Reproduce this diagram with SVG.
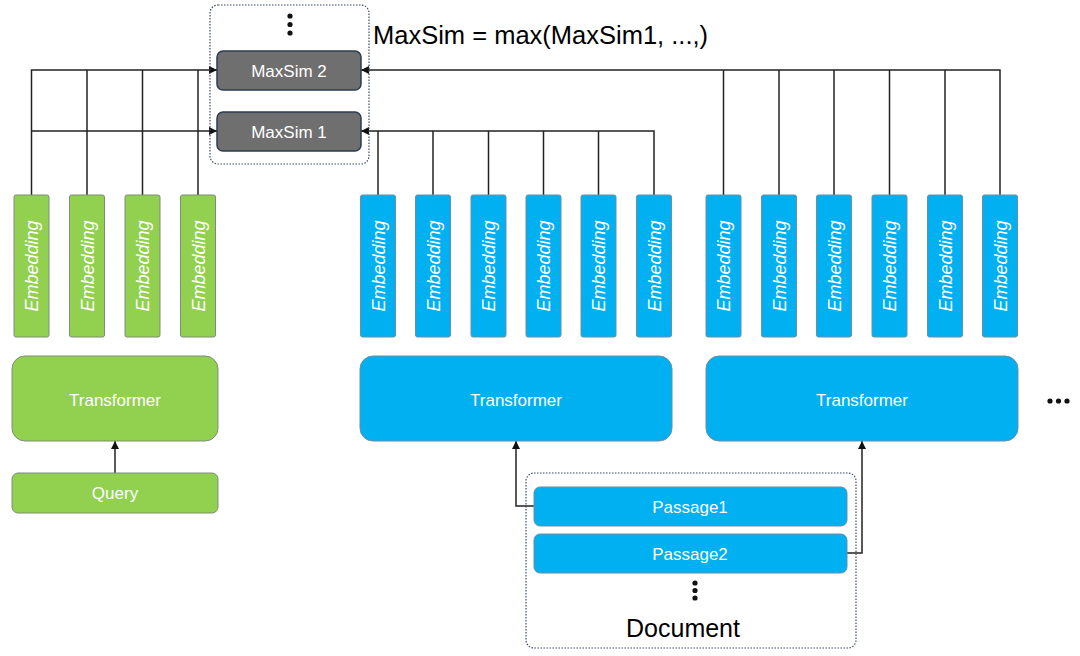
<svg xmlns="http://www.w3.org/2000/svg" width="1080" height="656" viewBox="0 0 1080 656">
<style>
.g{fill:#92D050;stroke:#7f8c7a;stroke-width:1}
.b{fill:#00B0F0;stroke:#6b8fa3;stroke-width:1}
.m{fill:#6f6f6f;stroke:#2d3b52;stroke-width:1.5}
.dot{fill:none;stroke:#3b4b66;stroke-width:1.2;stroke-dasharray:1.5 1.5}
.t{font-family:"Liberation Sans",Arial,sans-serif;fill:#ffffff;text-anchor:middle}
.e{font-family:"Liberation Sans",Arial,sans-serif;fill:#ffffff;font-style:italic;font-size:18px;text-anchor:middle}
.k{font-family:"Liberation Sans",Arial,sans-serif;fill:#000000}
.c{fill:none;stroke:#222222;stroke-width:1.5}
.d{fill:#111111}
</style>
<defs>
<marker id="ah" viewBox="0 0 10 10" refX="10" refY="5" markerWidth="8" markerHeight="8" markerUnits="userSpaceOnUse" orient="auto">
<path d="M0,0 L10,5 L0,10 z" fill="#111111"/>
</marker>
</defs>

<g id="connectors">
<!-- query embeddings to MaxSim -->
<path class="c" d="M31.5,195 V70 H217" marker-end="url(#ah)"/>
<path class="c" d="M31.5,131 H217" marker-end="url(#ah)"/>
<path class="c" d="M87,195 V70"/>
<path class="c" d="M142.5,195 V70"/>
<path class="c" d="M198,195 V70"/>
<!-- doc 1 embeddings to MaxSim 1 -->
<path class="c" d="M654,195 V131 H361" marker-end="url(#ah)"/>
<path class="c" d="M378,195 V131"/>
<path class="c" d="M433,195 V131"/>
<path class="c" d="M488.5,195 V131"/>
<path class="c" d="M543.5,195 V131"/>
<path class="c" d="M598.5,195 V131"/>
<!-- doc 2 embeddings to MaxSim 2 -->
<path class="c" d="M1000,195 V70 H361" marker-end="url(#ah)"/>
<path class="c" d="M723.5,195 V70"/>
<path class="c" d="M779,195 V70"/>
<path class="c" d="M834,195 V70"/>
<path class="c" d="M889.5,195 V70"/>
<path class="c" d="M945,195 V70"/>
<!-- query to transformer -->
<path class="c" d="M115,473 V441" marker-end="url(#ah)"/>
<!-- passages to transformers -->
<path class="c" d="M534,506 H516 V441" marker-end="url(#ah)"/>
<path class="c" d="M847,553 H862 V441" marker-end="url(#ah)"/>
</g>

<g id="maxsim-group">
<rect class="dot" x="210" y="5" width="159" height="159" rx="8"/>
<circle class="d" cx="290" cy="16" r="2.6"/>
<circle class="d" cx="290" cy="24.5" r="2.6"/>
<circle class="d" cx="290" cy="33" r="2.6"/>
</g>
<g id="maxsim2">
<rect class="m" x="217" y="51" width="144" height="39" rx="6"/>
<text class="t" x="289" y="76.5" font-size="17" fill="#eeeeee">MaxSim 2</text>
</g>
<g id="maxsim1">
<rect class="m" x="217" y="112" width="144" height="39" rx="6"/>
<text class="t" x="289" y="137.5" font-size="17">MaxSim 1</text>
</g>
<g id="title">
<text class="k" x="373" y="43.5" font-size="25.5">MaxSim = max(MaxSim1, ...,)</text>
</g>

<!-- query embeddings -->
<g id="q-emb-1"><rect class="g" x="14" y="195" width="35" height="142" rx="2"/><text class="e" transform="translate(38,266) rotate(-90)">Embedding</text></g>
<g id="q-emb-2"><rect class="g" x="69.5" y="195" width="35" height="142" rx="2"/><text class="e" transform="translate(93.5,266) rotate(-90)">Embedding</text></g>
<g id="q-emb-3"><rect class="g" x="125" y="195" width="35" height="142" rx="2"/><text class="e" transform="translate(149,266) rotate(-90)">Embedding</text></g>
<g id="q-emb-4"><rect class="g" x="180.5" y="195" width="35" height="142" rx="2"/><text class="e" transform="translate(204.5,266) rotate(-90)">Embedding</text></g>

<g id="q-transformer">
<rect class="g" x="12" y="356" width="206" height="85" rx="13"/>
<text class="t" x="115" y="405.5" font-size="17">Transformer</text>
</g>
<g id="query">
<rect class="g" x="12" y="473" width="206" height="40" rx="6"/>
<text class="t" x="115" y="499" font-size="17">Query</text>
</g>

<!-- passage 1 embeddings -->
<g id="p1-emb-1"><rect class="b" x="360.5" y="195" width="35" height="142" rx="2"/><text class="e" transform="translate(384.5,266) rotate(-90)">Embedding</text></g>
<g id="p1-emb-2"><rect class="b" x="415.5" y="195" width="35" height="142" rx="2"/><text class="e" transform="translate(439.5,266) rotate(-90)">Embedding</text></g>
<g id="p1-emb-3"><rect class="b" x="471" y="195" width="35" height="142" rx="2"/><text class="e" transform="translate(495,266) rotate(-90)">Embedding</text></g>
<g id="p1-emb-4"><rect class="b" x="526" y="195" width="35" height="142" rx="2"/><text class="e" transform="translate(550,266) rotate(-90)">Embedding</text></g>
<g id="p1-emb-5"><rect class="b" x="581" y="195" width="35" height="142" rx="2"/><text class="e" transform="translate(605,266) rotate(-90)">Embedding</text></g>
<g id="p1-emb-6"><rect class="b" x="636.5" y="195" width="35" height="142" rx="2"/><text class="e" transform="translate(660.5,266) rotate(-90)">Embedding</text></g>

<g id="p1-transformer">
<rect class="b" x="360" y="356" width="312" height="85" rx="13"/>
<text class="t" x="516" y="405.5" font-size="17">Transformer</text>
</g>

<!-- passage 2 embeddings -->
<g id="p2-emb-1"><rect class="b" x="706" y="195" width="35" height="142" rx="2"/><text class="e" transform="translate(730,266) rotate(-90)">Embedding</text></g>
<g id="p2-emb-2"><rect class="b" x="761.5" y="195" width="35" height="142" rx="2"/><text class="e" transform="translate(785.5,266) rotate(-90)">Embedding</text></g>
<g id="p2-emb-3"><rect class="b" x="816.5" y="195" width="35" height="142" rx="2"/><text class="e" transform="translate(840.5,266) rotate(-90)">Embedding</text></g>
<g id="p2-emb-4"><rect class="b" x="872" y="195" width="35" height="142" rx="2"/><text class="e" transform="translate(896,266) rotate(-90)">Embedding</text></g>
<g id="p2-emb-5"><rect class="b" x="927.5" y="195" width="35" height="142" rx="2"/><text class="e" transform="translate(951.5,266) rotate(-90)">Embedding</text></g>
<g id="p2-emb-6"><rect class="b" x="982.5" y="195" width="35" height="142" rx="2"/><text class="e" transform="translate(1006.5,266) rotate(-90)">Embedding</text></g>

<g id="p2-transformer">
<rect class="b" x="706" y="356" width="312" height="85" rx="13"/>
<text class="t" x="862" y="405.5" font-size="17">Transformer</text>
</g>
<g id="more">
<circle class="d" cx="1050" cy="401" r="2.6"/>
<circle class="d" cx="1058.5" cy="401" r="2.6"/>
<circle class="d" cx="1067" cy="401" r="2.6"/>
</g>

<g id="document">
<rect class="dot" x="526" y="473" width="330" height="175" rx="8"/>
<circle class="d" cx="695" cy="583" r="2.6"/>
<circle class="d" cx="695" cy="590.5" r="2.6"/>
<circle class="d" cx="695" cy="598" r="2.6"/>
<text class="k" x="683" y="637" font-size="25" text-anchor="middle">Document</text>
</g>
<g id="passage1">
<rect class="b" x="534" y="487" width="313" height="39" rx="6"/>
<text class="t" x="690" y="512.5" font-size="17">Passage1</text>
</g>
<g id="passage2">
<rect class="b" x="534" y="534" width="313" height="39" rx="6"/>
<text class="t" x="690" y="559.5" font-size="17">Passage2</text>
</g>
</svg>
